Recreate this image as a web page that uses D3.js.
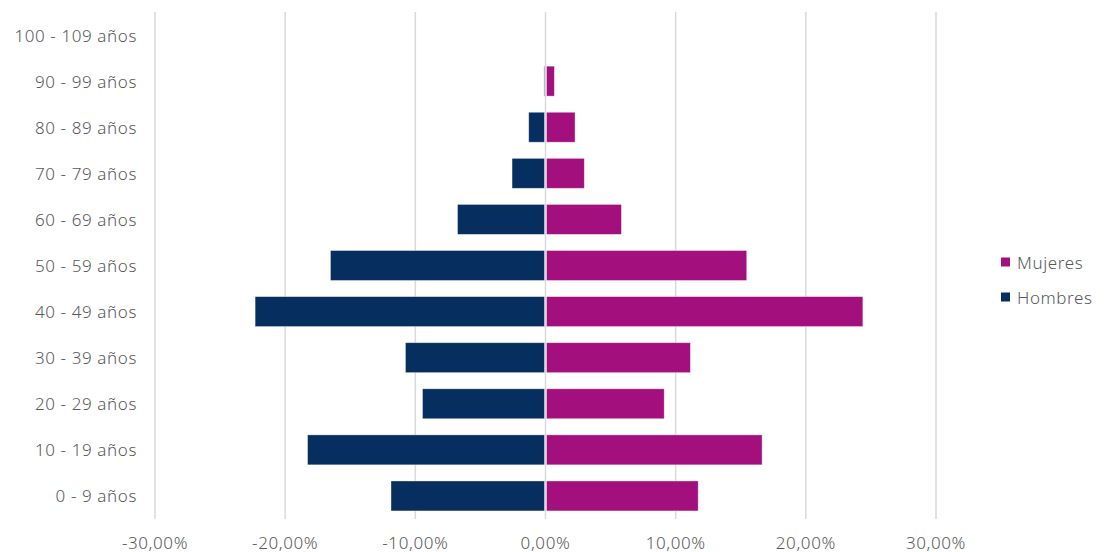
<!DOCTYPE html>
<html>
<head>
<meta charset="utf-8">
<script src="https://cdn.jsdelivr.net/npm/d3@7"></script>
<style>
  html, body { margin: 0; padding: 0; background: #ffffff; }
  svg { display: block; }
  text { font-family: "Noto Sans", "Open Sans", sans-serif; fill: #595959; font-weight: 300; }
</style>
</head>
<body>
<svg id="chart" width="1104" height="552"></svg>
<script>
const categories = ["0 - 9 años", "10 - 19 años", "20 - 29 años", "30 - 39 años", "40 - 49 años",
  "50 - 59 años", "60 - 69 años", "70 - 79 años", "80 - 89 años", "90 - 99 años", "100 - 109 años"];
const hombres = [11.87, 18.28, 9.45, 10.76, 22.31, 16.52, 6.76, 2.57, 1.29, 0.12, 0];
const mujeres = [11.73, 16.64, 9.12, 11.13, 24.38, 15.46, 5.83, 2.98, 2.27, 0.68, 0];
const xTicks = [-30, -20, -10, 0, 10, 20, 30];
const seriesNames = ["Mujeres", "Hombres"];
const seriesColors = { Mujeres: "#a30f7d", Hombres: "#062f60" };

const svg = d3.select("#chart");
const mLeft = 155, mRight = 936, mTop = 12, mBottom = 519;

const x = d3.scaleLinear().domain([-30, 30]).range([mLeft, mRight]);
const y = d3.scaleBand().domain(categories.slice().reverse()).range([mTop, mBottom]).paddingInner(0.35).paddingOuter(0.175);

// gridlines
svg.append("g").selectAll("line").data(xTicks).join("line")
  .attr("x1", d => x(d)).attr("x2", d => x(d))
  .attr("y1", mTop).attr("y2", mBottom)
  .attr("stroke", "#d9d9d9").attr("stroke-width", 1.5);

// bars
const rows = categories.map((c, i) => ({ c, h: hombres[i], m: mujeres[i] }));
svg.append("g").selectAll("rect").data(rows.filter(r => r.h > 0)).join("rect")
  .attr("x", d => x(-d.h)).attr("width", d => x(0) - 1 - x(-d.h))
  .attr("y", d => y(d.c)).attr("height", y.bandwidth())
  .attr("fill", seriesColors.Hombres).attr("stroke", "#ffffff").attr("stroke-opacity", 0.5).attr("stroke-width", 0.75);
svg.append("g").selectAll("rect").data(rows.filter(r => r.m > 0)).join("rect")
  .attr("x", x(0) + 1).attr("width", d => x(d.m) - x(0) - 1)
  .attr("y", d => y(d.c)).attr("height", y.bandwidth())
  .attr("fill", seriesColors.Mujeres).attr("stroke", "#ffffff").attr("stroke-opacity", 0.5).attr("stroke-width", 0.75);

// category labels
svg.append("g").selectAll("text").data(categories).join("text")
  .attr("x", 137).attr("y", d => y(d) + y.bandwidth() / 2)
  .attr("text-anchor", "end").attr("dominant-baseline", "central")
  .attr("font-size", 17).attr("letter-spacing", 0.6).text(d => d);

// x axis labels
const fmt = d => (d < 0 ? "-" : "") + Math.abs(d).toFixed(2).replace(".", ",") + "%";
svg.append("g").selectAll("text").data(xTicks).join("text")
  .attr("x", d => x(d)).attr("y", 542)
  .attr("text-anchor", "middle").attr("dominant-baseline", "central")
  .attr("font-size", 17).attr("letter-spacing", 0.6).text(fmt);

// legend
const lg = svg.append("g").selectAll("g").data(seriesNames).join("g")
  .attr("transform", (d, i) => `translate(1001, ${262 + i * 35})`);
lg.append("rect").attr("x", 0).attr("y", -4.5).attr("width", 9).attr("height", 9)
  .attr("fill", d => seriesColors[d]);
lg.append("text").attr("x", 16).attr("y", 0).attr("dominant-baseline", "central")
  .attr("font-size", 17).attr("letter-spacing", 0.6).text(d => d);
</script>
</body>
</html>
